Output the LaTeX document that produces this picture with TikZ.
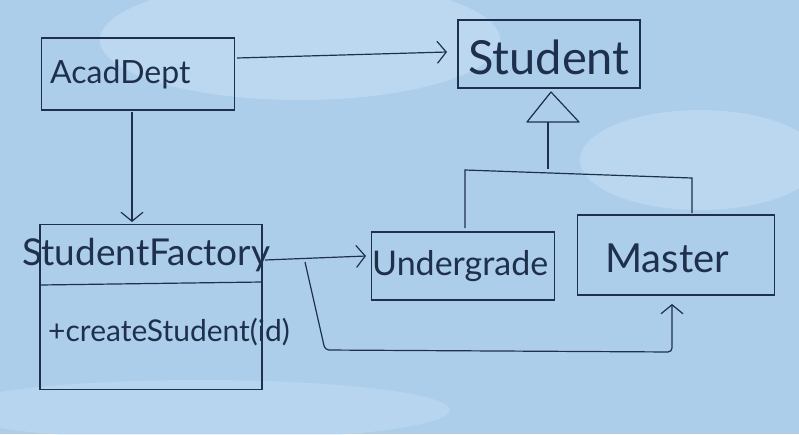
\documentclass[tikz,border=0pt]{standalone}
\usepackage{fontspec}
\setmainfont{Lato}
\usetikzlibrary{arrows.meta}
\definecolor{bg}{RGB}{172,206,234}
\definecolor{bgl}{RGB}{200,224,244}
\definecolor{ink}{RGB}{30,48,75}
\begin{document}
\begin{tikzpicture}[x=1pt,y=-1pt,
  box/.style={draw=ink,line width=1.2pt},
  ln/.style={draw=ink,line width=1.2pt},
  arr/.style={ln,-{Straight Barb[length=9pt,width=22pt]}},
  lbl/.style={text=ink,anchor=west,inner sep=0pt}]
\useasboundingbox (0,0) rectangle (799,434);
\begin{scope}
\clip (0,0) rectangle (799,434);
\fill[bg] (0,0) rectangle (799,434);
\fill[bgl,opacity=0.6] (300,40) ellipse (200 and 60);
\fill[bgl,opacity=0.5] (700,160) ellipse (120 and 50);
\fill[bgl,opacity=0.4] (200,410) ellipse (250 and 30);
\end{scope}
% boxes
\node[box,minimum width=193pt,minimum height=72pt] (acad) at (138,74) {};
\node[lbl,font=\fontsize{32}{34}\selectfont] at (50,74) {AcadDept};
\node[box,minimum width=182pt,minimum height=68pt] (stud) at (549,54) {};
\node[lbl,font=\fontsize{47}{50}\selectfont] at (468,57) {Student};
\node[box,minimum width=222pt,minimum height=165pt] (sf) at (151,307) {};
\draw[ln] (40,285) -- (262,282);
\node[lbl,font=\fontsize{37}{40}\selectfont] at (22,255) {StudentFactory};
\node[lbl,font=\fontsize{30}{32}\selectfont] at (48,332) {+createStudent(id)};
\node[box,minimum width=183pt,minimum height=68pt] (ug) at (463,266) {};
\node[lbl,font=\fontsize{34}{36}\selectfont] at (372,266) {Undergrade};
\node[box,minimum width=197pt,minimum height=80pt] (ms) at (676,255) {};
\node[lbl,font=\fontsize{40}{42}\selectfont] at (605,258) {Master};
% connectors
\coordinate (a1) at (237,58);
\coordinate (a2) at (447,52);
\draw[arr] (a1) -- (a2);
\coordinate (b1) at (132,112);
\coordinate (b2) at (132,222);
\draw[arr] (b1) -- (b2);
\coordinate (c1) at (265,260);
\coordinate (c2) at (366,256);
\draw[arr] (c1) -- (c2);
\coordinate (d1) at (305,262);
\coordinate (d2) at (325,350);
\coordinate (d3) at (672,352);
\coordinate (d4) at (672,304);
\draw[arr,rounded corners=4pt] (d1) -- (d2) -- (d3) -- (d4);
% inheritance
\coordinate (t1) at (551,92);
\coordinate (t2) at (527,122);
\coordinate (t3) at (579,122);
\draw[ln,line join=round] (t1) -- (t2) -- (t3) -- cycle;
\coordinate (i1) at (548,122);
\coordinate (i2) at (548,169);
\draw[ln] (i1) -- (i2);
\coordinate (h1) at (465,228);
\coordinate (h2) at (465,170);
\coordinate (h3) at (692,178);
\coordinate (h4) at (692,213);
\draw[ln] (h1) -- (h2) -- (h3) -- (h4);
\end{tikzpicture}
\end{document}
